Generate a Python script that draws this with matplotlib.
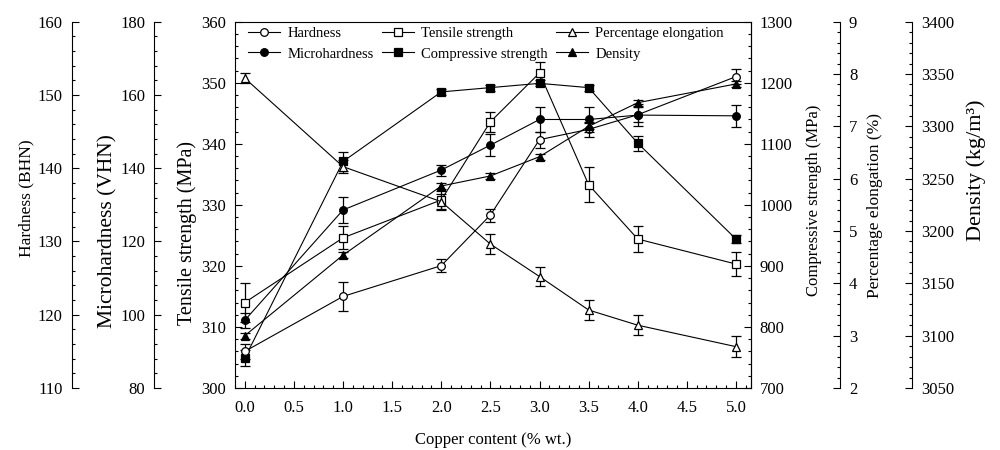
import matplotlib
matplotlib.use("Agg")
import matplotlib.pyplot as plt
from matplotlib.ticker import MultipleLocator, FormatStrFormatter
from matplotlib.lines import Line2D

plt.rcParams['font.family'] = ['Liberation Serif', 'DejaVu Serif']
plt.rcParams['mathtext.fontset'] = 'custom'
plt.rcParams['mathtext.rm'] = 'Liberation Serif'

copper = [0.0, 1.0, 2.0, 2.5, 3.0, 3.5, 4.0, 5.0]

hardness = [115.0, 122.5, 126.7, 133.6, 143.9, 145.3, 147.3, 152.5]
hardness_err = [1.0, 2.0, 0.9, 0.9, 1.1, 1.0, 1.0, 1.0]

microhardness = [98.5, 128.6, 139.5, 146.3, 153.3, 153.3, 154.5, 154.3]
microhardness_err = [2.0, 3.5, 1.5, 3.0, 3.3, 3.3, 3.0, 3.0]

tensile = [314.0, 324.6, 330.8, 343.6, 351.6, 333.3, 324.4, 320.3]
tensile_err = [3.2, 1.9, 1.5, 1.6, 1.8, 2.9, 2.1, 2.0]

compressive = [749.0, 1071.0, 1185.0, 1192.0, 1199.0, 1192.0, 1101.0, 944.0]
compressive_err = [13.0, 16.0, 5.0, 5.0, 5.0, 5.0, 12.0, 6.0]

elongation = [7.92, 6.23, 5.56, 4.75, 4.13, 3.49, 3.20, 2.79]
elongation_err = [0.10, 0.13, 0.15, 0.19, 0.18, 0.20, 0.19, 0.20]

density = [3100.0, 3177.0, 3243.0, 3252.6, 3271.0, 3300.0, 3322.6, 3340.5]
density_err = [3.0, 3.0, 3.0, 3.0, 3.0, 3.0, 3.0, 3.0]

xticks = [0.0, 0.5, 1.0, 1.5, 2.0, 2.5, 3.0, 3.5, 4.0, 4.5, 5.0]

FS = 12
fig = plt.figure(figsize=(10, 4.5), dpi=100)
ax = fig.add_axes([0.235, 0.1378, 0.5157, 0.814])

def style(a):
    a.tick_params(which='both', direction='in', labelsize=FS, width=0.8, color='black')
    a.tick_params(which='major', length=5)
    a.tick_params(which='minor', length=2.5)
    a.tick_params(axis='y', pad=6.5)

def twin(side, pos):
    t = ax.twinx()
    for s in ['left', 'right', 'top', 'bottom']:
        t.spines[s].set_visible(False)
    t.spines[side].set_visible(True)
    t.spines[side].set_position(('axes', pos))
    t.spines[side].set_linewidth(0.8)
    t.yaxis.set_ticks_position(side)
    t.yaxis.set_label_position(side)
    style(t)
    return t

# main axes (tensile strength, left)
for s in ax.spines.values():
    s.set_linewidth(0.8)
style(ax)
ax.tick_params(axis='x', pad=8.5)
ax.xaxis.set_ticks_position('bottom')
ax.yaxis.set_ticks_position('left')
ax.set_xlim(-0.1, 5.15)
ax.set_xticks(xticks)
ax.xaxis.set_major_formatter(FormatStrFormatter('%.1f'))
ax.xaxis.set_minor_locator(MultipleLocator(0.1))
ax.set_ylim(300, 360)
ax.yaxis.set_major_locator(MultipleLocator(10))
ax.yaxis.set_minor_locator(MultipleLocator(2))
ax.set_xlabel('Copper content (% wt.)', fontsize=FS, labelpad=11.5)

ax_c = twin('right', 1.0)
ax_c.set_ylim(700, 1300)
ax_c.yaxis.set_major_locator(MultipleLocator(100))
ax_c.yaxis.set_minor_locator(MultipleLocator(20))

ax_h = twin('left', -0.3167)
ax_h.set_ylim(110, 160)
ax_h.yaxis.set_major_locator(MultipleLocator(10))
ax_h.yaxis.set_minor_locator(MultipleLocator(2))

ax_m = twin('left', -0.157)
ax_m.set_ylim(80, 180)
ax_m.yaxis.set_major_locator(MultipleLocator(20))
ax_m.yaxis.set_minor_locator(MultipleLocator(4))

ax_e = twin('right', 1.1731)
ax_e.set_ylim(2, 9)
ax_e.yaxis.set_major_locator(MultipleLocator(1))
ax_e.yaxis.set_minor_locator(MultipleLocator(0.2))

ax_d = twin('right', 1.3122)
ax_d.set_ylim(3050, 3400)
ax_d.yaxis.set_major_locator(MultipleLocator(50))
ax_d.yaxis.set_minor_locator(MultipleLocator(10))

labels = [
    (ax_h, 'Hardness (BHN)', 12.5, -0.4053, 0.519),
    (ax_m, 'Microhardness (VHN)', 15.5, -0.2472, 0.429),
    (ax, 'Tensile strength (MPa)', 14.5, -0.0921, 0.423),
    (ax_c, 'Compressive strength (MPa)', 12, 1.1227, 0.513),
    (ax_e, 'Percentage elongation (%)', 12.5, 1.2410, 0.497),
    (ax_d, 'Density (kg/m³)', 16, 1.4369, 0.595),
]
for a, txt, fs, xpos, ypos in labels:
    a.set_ylabel(txt, fontsize=fs)
    a.yaxis.set_label_coords(xpos, ypos)
    a.yaxis.label.set_verticalalignment('center')

series = [
    (ax_h, hardness, hardness_err, 'o', 'white', 'Hardness', 5.5),
    (ax_m, microhardness, microhardness_err, 'o', 'black', 'Microhardness', 5.5),
    (ax, tensile, tensile_err, 's', 'white', 'Tensile strength', 5.5),
    (ax_c, compressive, compressive_err, 's', 'black', 'Compressive strength', 6),
    (ax_e, elongation, elongation_err, '^', 'white', 'Percentage elongation', 6),
    (ax_d, density, density_err, '^', 'black', 'Density', 6),
]
handles = []
for a, vals, err, mk, fc, name, ms in series:
    a.errorbar(copper, vals, yerr=err, fmt='none', ecolor='black',
               elinewidth=0.9, capsize=3.8, capthick=0.9, zorder=2)
    a.plot(copper, vals, color='black', linewidth=0.8, marker=mk,
           markerfacecolor=fc, markeredgecolor='black', markersize=ms,
           markeredgewidth=0.9, zorder=3)
    handles.append(Line2D([], [], color='black', linewidth=0.8, marker=mk,
                          markerfacecolor=fc, markeredgecolor='black',
                          markersize=ms, markeredgewidth=0.9, label=name))

leg = ax_d.legend(handles=handles, ncol=3, loc='upper left',
                  bbox_to_anchor=(0.006, 1.0137), frameon=False, fontsize=10.5,
                  handlelength=2.2, handletextpad=0.5, columnspacing=0.55,
                  labelspacing=0.5, borderaxespad=0.3)

fig.savefig('out.png', dpi=100)
